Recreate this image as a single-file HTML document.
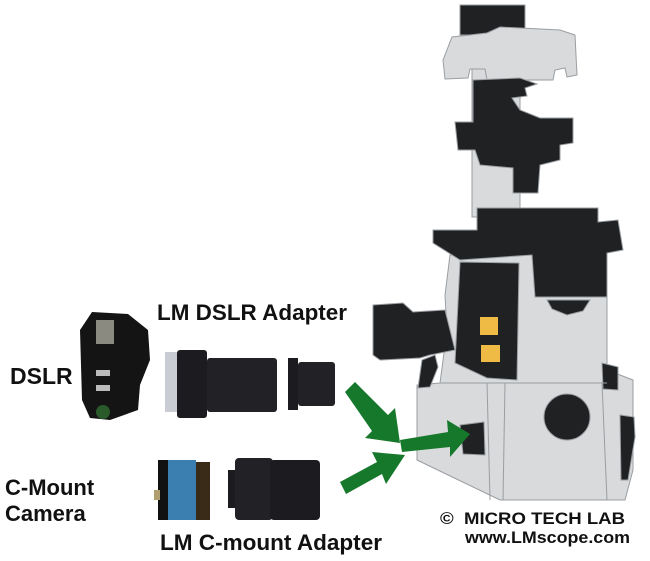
<!DOCTYPE html>
<html><head><style>
html,body{margin:0;padding:0;background:#fff;}
svg{display:block;}
text{font-family:"Liberation Sans",sans-serif;font-weight:bold;fill:#111;}
</style></head><body>
<svg width="650" height="561" viewBox="0 0 650 561" xmlns="http://www.w3.org/2000/svg">
<g stroke="#9a9ea2" stroke-width="1">
<rect x="460" y="5" width="65" height="30" fill="#1f2123"/>
<rect x="472" y="67" width="48" height="150" fill="#d8dadc"/>
<polygon points="443,60 452,37 487,33 500,27 560,30 575,35 577,75 567,77 565,68 555,70 553,80 487,80 485,69 470,69 468,78 445,79" fill="#d8dadc"/>
<polygon points="473,80 520,78 537,84 525,88 527,96 512,98 520,110 540,118 573,118 573,143 560,145 560,160 540,165 538,193 513,193 513,168 480,165 475,150 458,150 455,122 473,122" fill="#1f2123"/>
<polygon points="450,255 607,252 607,370 633,380 633,470 625,500 500,500 417,460 417,385 440,383 447,330 445,295" fill="#d8dadc"/>
<polygon points="433,230 477,230 477,208 598,208 598,222 618,220 623,250 607,253 607,297 535,297 532,255 460,260 433,243" fill="#1f2123"/>
<polygon points="460,262 519,263 517,380 487,378 455,363" fill="#1f2123"/>
<polygon points="373,305 403,303 413,312 445,310 455,350 430,355 420,358 380,360 373,355" fill="#1f2123"/>
<polygon points="422,360 435,355 438,367 430,387 418,388" fill="#1f2123"/>
<polygon points="547,300 590,300 583,311 567,315 552,309" fill="#1f2123"/>
<circle cx="567" cy="417" r="23" fill="#1f2123"/>
<polygon points="460,425 484,422 485,455 463,454" fill="#1f2123"/>
<polygon points="602,363 618,367 618,390 603,389" fill="#1f2123"/>
<polygon points="620,415 634,417 635,437 628,480 621,480" fill="#1f2123"/>
<line x1="440" y1="383" x2="607" y2="383"/>
<line x1="487" y1="383" x2="490" y2="500"/>
<line x1="505" y1="383" x2="503" y2="500"/>
<line x1="602" y1="383" x2="607" y2="500"/>
</g>
<rect x="480" y="317" width="18" height="18" fill="#f0bb45"/>
<rect x="481" y="345" width="19" height="17" fill="#f0bb45"/>
<g fill="#16782a">
<polygon points="345,392 355,382 388,415 395,408 400,443 365,438 372,431"/>
<polygon points="340,482 346,494 382,474 386,484 405,455 372,452 377,462"/>
<polygon points="400,440 402,452 450,447 450,457 470,434 447,420 448,432"/>
</g>
<path d="M92,312 L128,314 L148,330 L150,360 L140,385 L138,410 L110,420 L90,418 L82,400 L80,330 Z" fill="#141414"/>
<rect x="96" y="320" width="18" height="24" fill="#8a8a80"/>
<rect x="96" y="370" width="14" height="6" fill="#bbb"/>
<rect x="96" y="385" width="14" height="6" fill="#bbb"/>
<circle cx="103" cy="412" r="7" fill="#2a5a2a"/>
<rect x="165" y="352" width="12" height="60" fill="#c9ccd2"/>
<rect x="177" y="350" width="30" height="68" rx="3" fill="#1c1c20"/>
<rect x="207" y="358" width="70" height="54" rx="3" fill="#222226"/>
<rect x="288" y="358" width="10" height="52" fill="#1c1c20"/>
<rect x="298" y="362" width="37" height="44" rx="3" fill="#222226"/>
<rect x="158" y="460" width="20" height="60" fill="#111"/>
<rect x="168" y="460" width="28" height="60" fill="#3b7fb0"/>
<rect x="196" y="462" width="14" height="58" fill="#3a2a18"/>
<rect x="154" y="490" width="6" height="10" fill="#b0a070"/>
<rect x="228" y="470" width="12" height="38" fill="#1c1c20"/>
<rect x="235" y="458" width="38" height="62" rx="4" fill="#222226"/>
<rect x="270" y="460" width="50" height="60" rx="4" fill="#1c1c20"/>
<text x="157" y="320" font-size="22" textLength="190" lengthAdjust="spacingAndGlyphs">LM DSLR Adapter</text>
<text x="10" y="384" font-size="23">DSLR</text>
<text x="5" y="495" font-size="22">C-Mount</text>
<text x="5" y="521" font-size="22">Camera</text>
<text x="160" y="550" font-size="22" textLength="222" lengthAdjust="spacingAndGlyphs">LM C-mount Adapter</text>
<text x="440" y="524" font-size="17" textLength="185" lengthAdjust="spacingAndGlyphs" xml:space="preserve">©  MICRO TECH LAB</text>
<text x="465" y="543" font-size="17" textLength="165" lengthAdjust="spacingAndGlyphs">www.LMscope.com</text>
</svg>
</body></html>
